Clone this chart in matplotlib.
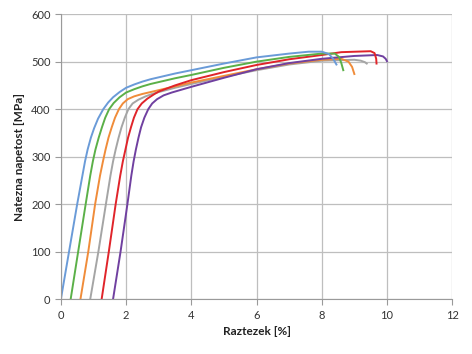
import numpy as np
import matplotlib
matplotlib.use('Agg')
import matplotlib.pyplot as plt

plt.rcParams['font.family'] = ['Lato', 'DejaVu Sans']

# strain [%] and stress [MPa], one pair per specimen
blue_x = [0, 0.25, 0.5, 0.66, 0.74, 0.82, 0.92, 1.02, 1.14, 1.3, 1.45, 1.6, 1.8, 2.0, 2.25, 2.5, 2.75, 3.0, 3.5, 4.0,
          5.0, 6.0, 7.0, 7.6, 8.0, 8.22, 8.35, 8.45]
blue_y = [0, 100, 200, 260, 290, 315, 340, 360, 380, 400, 414, 425, 436, 445, 452, 458, 463, 467, 475, 482,
          496, 509, 517, 521, 521, 516, 506, 494]

green_x = [0.3, 0.53, 0.76, 0.9, 0.98, 1.06, 1.16, 1.26, 1.36, 1.48, 1.62, 1.8, 2.0, 2.25, 2.5, 2.75, 3.0, 3.5, 4.0,
           5.0, 6.0, 7.0, 8.0, 8.4, 8.53, 8.6, 8.66]
green_y = [0, 100, 200, 260, 290, 315, 340, 362, 382, 400, 413, 425, 435, 442, 448, 453, 457, 465, 472,
           487, 500, 510, 517, 517, 510, 497, 482]

orange_x = [0.6, 0.84, 1.05, 1.2, 1.29, 1.37, 1.46, 1.56, 1.66, 1.78, 1.9, 2.05, 2.25, 2.5, 2.75, 3.0, 3.5, 4.0,
            5.0, 6.0, 7.0, 8.0, 8.6, 8.82, 8.93, 9.0]
orange_y = [0, 100, 200, 260, 290, 315, 340, 362, 382, 400, 412, 421, 427, 432, 436, 440, 448, 456,
            470, 484, 496, 504, 506, 500, 489, 474]

gray_x = [0.9, 1.15, 1.38, 1.52, 1.6, 1.68, 1.77, 1.86, 1.96, 2.07, 2.2, 2.38, 2.6, 2.8, 3.0, 3.5, 4.0,
          5.0, 6.0, 7.0, 8.0, 9.0, 9.2, 9.32, 9.38]
gray_y = [0, 100, 200, 260, 290, 315, 340, 362, 382, 400, 412, 420, 427, 432, 436, 445, 453,
          468, 482, 494, 502, 504, 502, 499, 496]

red_x = [1.25, 1.47, 1.68, 1.82, 1.9, 1.98, 2.06, 2.15, 2.24, 2.35, 2.48, 2.65, 2.85, 3.0, 3.5, 4.0,
         5.0, 6.0, 7.0, 8.0, 8.6, 9.5, 9.62, 9.67, 9.68]
red_y = [0, 100, 200, 260, 290, 315, 340, 362, 382, 400, 412, 422, 431, 437, 450, 461,
         478, 493, 505, 514, 520, 522, 518, 506, 496]

purple_x = [1.6, 1.83, 2.04, 2.16, 2.23, 2.3, 2.38, 2.46, 2.56, 2.68, 2.8, 2.95, 3.15, 3.4, 3.7, 4.0,
            5.0, 6.0, 7.0, 8.0, 9.0, 9.7, 9.88, 9.96, 10.0]
purple_y = [0, 100, 200, 260, 290, 315, 340, 362, 382, 400, 412, 421, 429, 435, 441, 447,
            466, 484, 497, 506, 512, 514, 511, 506, 501]

fig = plt.figure(figsize=(4.72, 3.54), dpi=100)
ax = fig.add_axes([0.129, 0.155, 0.829, 0.805])

ax.plot(gray_x, gray_y, color='#A5A5A5', lw=1.4)
ax.plot(orange_x, orange_y, color='#F08C3A', lw=1.4)
ax.plot(purple_x, purple_y, color='#7040A0', lw=1.4)
ax.plot(red_x, red_y, color='#E0242A', lw=1.4)
ax.plot(green_x, green_y, color='#5BB048', lw=1.4)
ax.plot(blue_x, blue_y, color='#6A9BD8', lw=1.4)

ax.set_xlim(0, 12)
ax.set_ylim(0, 600)
ax.set_xticks(np.arange(0, 13, 2))
ax.set_yticks(np.arange(0, 601, 100))
ax.grid(True, color='#BEBEBE', lw=0.9)
ax.set_axisbelow(True)
for s in ['top', 'right']:
    ax.spines[s].set_visible(False)
for s in ['left', 'bottom']:
    ax.spines[s].set_color('#9A9A9A')
ax.tick_params(colors='#9A9A9A', labelcolor='#333333', labelsize=8, length=4)

ax.set_xlabel('Raztezek [%]', fontsize=8.5, fontweight='bold', color='#222222')
ax.set_ylabel('Natezna napetost [MPa]', fontsize=8.5, fontweight='bold', color='#222222')

plt.savefig('out.png', dpi=100)
